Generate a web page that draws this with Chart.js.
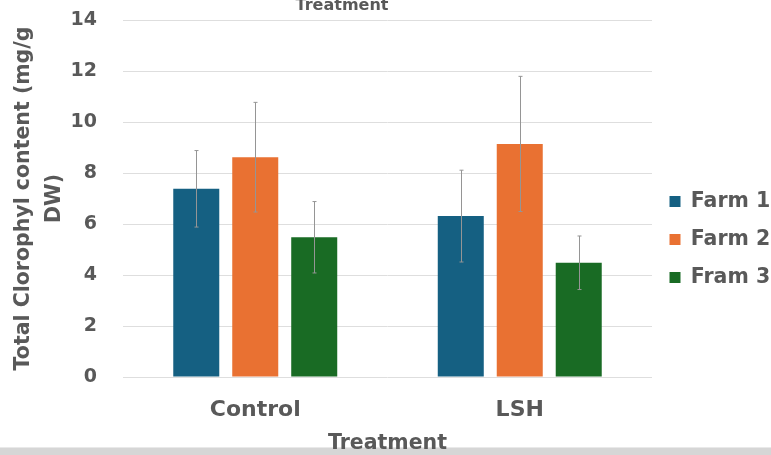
<!DOCTYPE html>
<html>
<head>
<meta charset="utf-8">
<script src="https://cdn.jsdelivr.net/npm/chart.js@4.4.1/dist/chart.umd.min.js"></script>
<style>
  html, body { margin: 0; padding: 0; background: #ffffff; }
  #wrap { position: relative; width: 771px; height: 455px; overflow: hidden; background: #ffffff; }
  #band { position: absolute; left: 0; right: 0; bottom: 0; height: 7px; background: #d6d6d6; border-top: 1px solid #e9e9e9; z-index: 0; }
  #c { position: absolute; left: 0; top: 0; z-index: 1; }
</style>
</head>
<body>
<div id="wrap">
  <div id="band"></div>
  <canvas id="c" width="771" height="455"></canvas>
</div>
<script>
const categories = ['Control', 'LSH'];
const seriesNames = ['Farm 1', 'Farm 2', 'Fram 3'];
const farm1 = [7.38, 6.31];
const farm1Err = [1.5, 1.8];
const farm2 = [8.62, 9.14];
const farm2Err = [2.15, 2.65];
const fram3 = [5.48, 4.48];
const fram3Err = [1.4, 1.05];
const yTicks = [0, 2, 4, 6, 8, 10, 12, 14];
const chartTitle = 'Treatment';
const xTitle = 'Treatment';
const yTitle = ['Total Clorophyl content (mg/g', 'DW)'];

const colors = ['#156082', '#E97132', '#196B24'];
const textColor = '#595959';
const fontFamily = '"DejaVu Sans", Verdana, sans-serif';

const errorBars = {
  id: 'errorBars',
  afterDatasetsDraw(chart) {
    const ctx = chart.ctx;
    const y = chart.scales.y;
    ctx.save();
    ctx.strokeStyle = '#959595';
    ctx.lineWidth = 1;
    chart.data.datasets.forEach((ds, i) => {
      const meta = chart.getDatasetMeta(i);
      meta.data.forEach((bar, j) => {
        const v = ds.data[j], e = ds.errors[j];
        const x = Math.round(bar.x) + 0.5;
        const yt = y.getPixelForValue(v + e);
        const yb = y.getPixelForValue(v - e);
        ctx.beginPath();
        ctx.moveTo(x, yt); ctx.lineTo(x, yb);
        ctx.moveTo(x - 2, yt); ctx.lineTo(x + 2, yt);
        ctx.moveTo(x - 2, yb); ctx.lineTo(x + 2, yb);
        ctx.stroke();
      });
    });
    ctx.restore();
  }
};

const topTitle = {
  id: 'topTitle',
  afterDraw(chart) {
    const ctx = chart.ctx;
    ctx.save();
    ctx.fillStyle = textColor;
    ctx.font = 'bold 16px ' + fontFamily;
    ctx.textAlign = 'center';
    ctx.textBaseline = 'alphabetic';
    ctx.fillText(chartTitle, 342, 10);
    ctx.restore();
  }
};

const legendWidth = {
  id: 'legendWidth',
  beforeLayout(chart) {
    const lg = chart.legend;
    if (lg && !lg._fixedWidth) {
      const f = lg.fit.bind(lg);
      lg.fit = function () { f(); this.width = 119; };
      lg._fixedWidth = true;
    }
  },
  afterLayout(chart) {
    const lg = chart.legend;
    if (lg) { lg.top += 2; lg.bottom += 2; }
  }
};

new Chart(document.getElementById('c'), {
  type: 'bar',
  data: {
    labels: categories,
    datasets: [
      { label: seriesNames[0], data: farm1, errors: farm1Err, backgroundColor: colors[0] },
      { label: seriesNames[1], data: farm2, errors: farm2Err, backgroundColor: colors[1] },
      { label: seriesNames[2], data: fram3, errors: fram3Err, backgroundColor: colors[2] }
    ]
  },
  options: {
    responsive: false,
    animation: false,
    devicePixelRatio: 1,
    categoryPercentage: 0.669,
    barPercentage: 0.78,
    layout: { padding: { top: 20, left: 0, right: 0, bottom: 0 } },
    plugins: {
      title: { display: false },
      tooltip: { enabled: false },
      legend: {
        position: 'right',
        align: 'center',
        labels: {
          boxWidth: 11, boxHeight: 11, padding: 17.5,
          color: textColor,
          font: { family: fontFamily, size: 20.5, weight: 'bold' }
        }
      }
    },
    scales: {
      x: {
        grid: { display: false },
        border: { display: false },
        ticks: { color: textColor, padding: 12, font: { family: fontFamily, size: 22, weight: 'bold' } },
        title: { display: true, text: xTitle, color: textColor, padding: { top: 0, bottom: 0 }, font: { family: fontFamily, size: 20.5, weight: 'bold', lineHeight: 1.1 } },
        afterFit(s) { s.height = 78; }
      },
      y: {
        min: 0, max: 14,
        afterBuildTicks(s) { s.ticks = yTicks.map(v => ({ value: v })); },
        grid: { color: '#dedede', lineWidth: 1, drawTicks: false },
        border: { display: false },
        ticks: { color: textColor, padding: 26, font: { family: fontFamily, size: 19, weight: 'bold' } },
        title: { display: true, text: yTitle, color: textColor, padding: { top: 8.5, bottom: 0 }, font: { family: fontFamily, size: 20.5, weight: 'bold', lineHeight: 1.51 } },
        afterFit(s) { s.width = 123; s.paddingTop = 0; s.paddingBottom = 0; }
      }
    }
  },
  plugins: [errorBars, topTitle, legendWidth]
});
</script>
</body>
</html>
